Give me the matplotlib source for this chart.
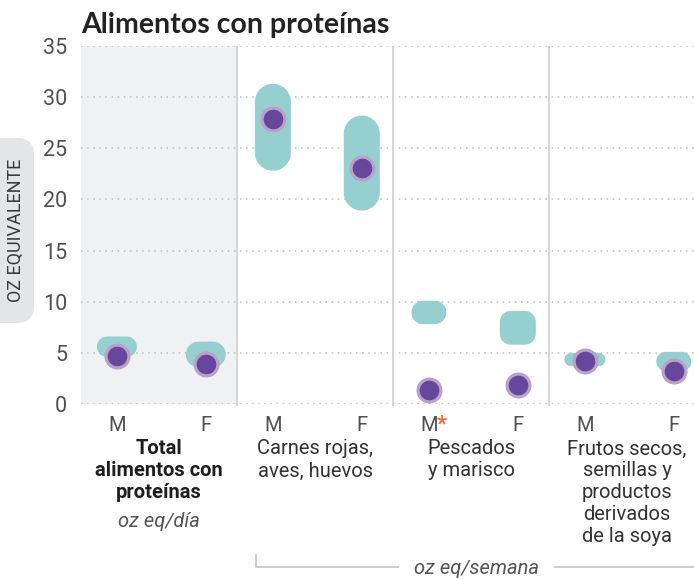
import numpy as np
import matplotlib
matplotlib.use("Agg")
import matplotlib.pyplot as plt
from matplotlib.patches import FancyBboxPatch, Polygon
from matplotlib.lines import Line2D

# values
groups = ["Total\nalimentos con\nproteínas",
          "Carnes rojas,\naves, huevos",
          "Pescados\ny marisco",
          "Frutos secos,\nsemillas y\nproductos\nderivados\nde la soya"]
sexes = ["M", "F", "M", "F", "M", "F", "M", "F"]
rec_low = [4.6, 3.6, 22.8, 18.9, 7.8, 5.8, 3.7, 3.2]
rec_high = [6.6, 6.1, 31.3, 28.2, 10.1, 9.1, 5.0, 5.1]
intake = [4.7, 3.9, 27.9, 23.1, 1.4, 1.9, 4.2, 3.2]
y_ticks = [0, 5, 10, 15, 20, 25, 30, 35]

TEAL = "#95cfcf"
PURPLE = "#67479b"
PURPLE_EDGE = "#b8a2c9"
GRAY_TXT = "#555555"

W, H = 694, 579
fig = plt.figure(figsize=(W / 100, H / 100), dpi=100)
ax = fig.add_axes([81 / W, 175 / H, (W - 81) / W, 358 / H])
sec = 156  # px per group
ax.set_xlim(0, (W - 81) / sec)
ax.set_ylim(0, 35)

def fx(px):
    return px / W

def fy(py):
    return 1 - py / H

def rounded_box(x0, y0, w, h, rx, ry):
    # rounded rectangle with true quarter circles (radii given in data units per axis)
    t = np.linspace(0, np.pi / 2, 12)
    corners = [(x0 + w - rx, y0 + h - ry, 0), (x0 + rx, y0 + h - ry, 1),
               (x0 + rx, y0 + ry, 2), (x0 + w - rx, y0 + ry, 3)]
    pts = []
    for cx, cy, k in corners:
        a = t + k * np.pi / 2
        pts += list(zip(cx + rx * np.cos(a), cy + ry * np.sin(a)))
    return pts

# x positions of the M / F columns inside each group
xs = [g + off for g in range(len(groups)) for off in (0.23, 0.8)]

# shaded first group + dividers
ax.axvspan(0, 1, color="#f0f1f3", zorder=0, lw=0)
ax.vlines([1, 2, 3], -0.2, 35, color="#d3d3d3", lw=1.3, zorder=1, clip_on=False)

ax.set_yticks(y_ticks)
ax.yaxis.grid(True, color="#bdbdbd", linestyle=(0, (1, 3)), linewidth=1.1)
ax.set_axisbelow(True)
for s in ax.spines.values():
    s.set_visible(False)

# recommended ranges as rounded boxes
px_x = ax.bbox.width / (ax.get_xlim()[1] - ax.get_xlim()[0])
px_y = ax.bbox.height / 35
box_px = [40, 40, 36, 36, 35, 36, 41, 35]
for x, lo, hi, bw in zip(xs, rec_low, rec_high, box_px):
    h_px = (hi - lo) * px_y
    r_px = min(bw, h_px) / 2 if abs(h_px - bw) > 8 else 11
    w = bw / px_x
    pts = rounded_box(x - w / 2, lo, w, hi - lo, r_px / px_x, r_px / px_y)
    ax.add_patch(Polygon(pts, closed=True, fc=TEAL, ec="none", zorder=3))

# actual intake
ax.scatter(xs, intake, s=270, color=PURPLE, edgecolor=PURPLE_EDGE,
           linewidth=2.3, zorder=4, clip_on=False)

ax.set_xticks(xs)
ax.set_xticklabels(sexes)
ax.tick_params(axis="x", length=0, pad=8.5, labelsize=14.5, labelcolor="#505050")
ax.tick_params(axis="y", length=0, pad=10, labelsize=15.5, labelcolor="#505050")
for lab in ax.get_xticklabels() + ax.get_yticklabels():
    lab.set_fontfamily("Roboto")

# orange asterisk next to the fish M
ax.annotate("*", xy=(xs[4], 0), xycoords=ax.get_xaxis_transform(),
            xytext=(5.5, -7), textcoords="offset points", ha="left", va="top",
            color="#f26b3a", fontsize=16, fontweight="bold", family="Roboto")

# group labels
trans = ax.get_xaxis_transform()
for g, name in enumerate(groups):
    bold = g == 0
    ax.annotate(name, xy=(g + 0.5, 0), xycoords=trans, xytext=(0, -25.5),
                textcoords="offset points", ha="center", va="top",
                fontsize=14.5, family="Roboto", linespacing=1.2,
                fontweight="bold" if bold else "normal",
                color="#1e1e1e" if bold else "#333333")
ax.annotate("oz eq/día", xy=(0.5, 0), xycoords=trans, xytext=(0, -25.5 - 3 * 17.4),
            textcoords="offset points", ha="center", va="top",
            fontsize=14.5, family="Roboto", fontstyle="italic", color=GRAY_TXT)

# bracket for weekly groups
line_kw = dict(color="#c8c8c8", lw=1.3, transform=fig.transFigure)
fig.add_artist(Line2D([fx(256), fx(256), fx(398)], [fy(555), fy(567), fy(567)], **line_kw))
fig.add_artist(Line2D([fx(555), fx(694)], [fy(567), fy(567)], **line_kw))
fig.text(fx(477), fy(568), "oz eq/semana", ha="center", va="center",
         fontsize=14.5, family="Roboto", fontstyle="italic", color=GRAY_TXT)

# y axis label in a pill
pill = FancyBboxPatch((fx(-20), fy(323)), fx(54), fy(138) - fy(323),
                      boxstyle=f"round,pad=0,rounding_size={fx(17)}",
                      mutation_aspect=W / H, transform=fig.transFigure,
                      fc="#e4e5e7", ec="none")
fig.add_artist(pill)
fig.text(fx(16), fy(230), "OZ EQUIVALENTE", rotation=90, ha="center", va="center",
         fontsize=13, family="Roboto", color="#3a3a3a")

fig.text(fx(81), fy(33), "Alimentos con proteínas", ha="left", va="baseline",
         fontsize=20.5, family="Lato", fontweight="bold", color="#222222")

fig.savefig("out.png", dpi=100)
